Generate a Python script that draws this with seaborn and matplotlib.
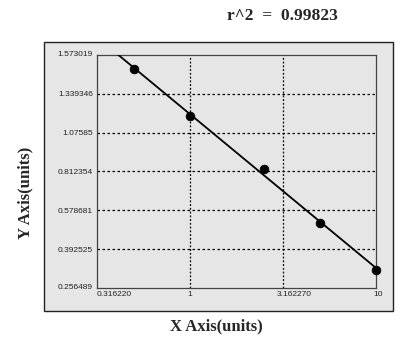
import numpy as np
import pandas as pd
import matplotlib
matplotlib.use("Agg")
import matplotlib.pyplot as plt
import matplotlib.patches as mpatches
import matplotlib.transforms as mtrans
import seaborn as sns

# ---- data ----
x_conc = [0.5, 1.0, 2.5, 5.0, 10.0]
y_od = [1.494, 1.228, 0.927, 0.626, 0.358]
y_tick_labels = ["0.256489", "0.392525", "0.578681", "0.812354", "1.07585", "1.339346", "1.573019"]
x_tick_values = [0.316228, 1.0, 3.162278, 10.0]
x_tick_labels = ["0.316220", "1", "3.162270", "10"]
r2_text = "r^2  =  0.99823"
y_min, y_max = 0.256489, 1.573019

sns.set_style("white")
plt.rcParams["font.family"] = ["Liberation Sans", "DejaVu Sans"]

W, H = 414, 346
fig = plt.figure(figsize=(W / 100, H / 100), dpi=100)
fig.patch.set_facecolor("white")

panel_color = "#e6e6e6"
# outer gray panel
fig.patches.append(mpatches.Rectangle((44 / W, 1 - 311 / H), (393 - 44) / W, (311 - 42) / H,
                                      transform=fig.transFigure, facecolor=panel_color,
                                      edgecolor="#222222", linewidth=1.0, zorder=-5))

ax = fig.add_axes([97 / W, 1 - 288 / H, 279 / W, 233 / H])
ax.set_zorder(2)
ax.set_facecolor(panel_color)

df = pd.DataFrame({"x": x_conc, "y": y_od})
# linear fit in log10(x)
coef = np.polyfit(np.log10(df["x"]), df["y"], 1)
xfit = np.logspace(np.log10(0.316228), 1, 200)
fit_df = pd.DataFrame({"x": xfit, "y": np.polyval(coef, np.log10(xfit))})

sns.lineplot(data=fit_df, x="x", y="y", ax=ax, color="black", linewidth=1.3, zorder=3)
sns.scatterplot(data=df, x="x", y="y", ax=ax, color="black", s=40, edgecolor="black",
                zorder=4, clip_on=False)

ax.set_xscale("log")
ax.set_xlim(0.316228, 10)
ax.set_ylim(y_min, y_max)

yt = np.linspace(y_min, y_max, len(y_tick_labels))
ax.set_yticks(yt)
ax.set_yticklabels(y_tick_labels)
ax.set_xticks(x_tick_values)
ax.set_xticklabels(x_tick_labels)
ax.minorticks_off()
ax.tick_params(axis="both", length=0, labelsize=6, colors="#222222")
ax.tick_params(axis="y", pad=3)
ax.tick_params(axis="x", pad=2)

# x label alignment tweaks
xl = ax.get_xticklabels()
xl[0].set_ha("left")
offsets = [(0, 0), (0, 0), (11, 0), (2, 0)]
for lab, (dx, dy) in zip(xl, offsets):
    lab.set_transform(lab.get_transform() + mtrans.ScaledTranslation(dx / 100, dy / 100, fig.dpi_scale_trans))
yl = ax.get_yticklabels()
yl[0].set_va("bottom")
yl[0].set_transform(yl[0].get_transform() + mtrans.ScaledTranslation(0, -3 / 100, fig.dpi_scale_trans))
yl[-1].set_va("center")

# grid lines at interior ticks
for v in yt[1:-1]:
    ax.axhline(v, color="black", linestyle=(0, (2, 2)), linewidth=0.9, zorder=1)
for v in x_tick_values[1:-1]:
    ax.axvline(v, color="black", linestyle=(0, (1.5, 1.5)), linewidth=0.9, zorder=1)

for s in ax.spines.values():
    s.set_color("#444444")
    s.set_linewidth(0.9)
    s.set_visible(True)

ax.set_xlabel("X Axis(units)", fontfamily="Liberation Serif", fontweight="bold", fontsize=12)
ax.set_ylabel("Y Axis(units)", fontfamily="Liberation Serif", fontweight="bold", fontsize=12)
ax.xaxis.set_label_coords((216 - 97) / 279, -(318 - 288) / 233)
ax.yaxis.set_label_coords((33 - 97) / 279, (288 - 193) / 233)

fig.text(282 / W, 1 - 16 / H, r2_text, ha="center", va="center",
         fontfamily="Liberation Serif", fontweight="bold", fontsize=12.5)

fig.savefig("out.png", dpi=100)
